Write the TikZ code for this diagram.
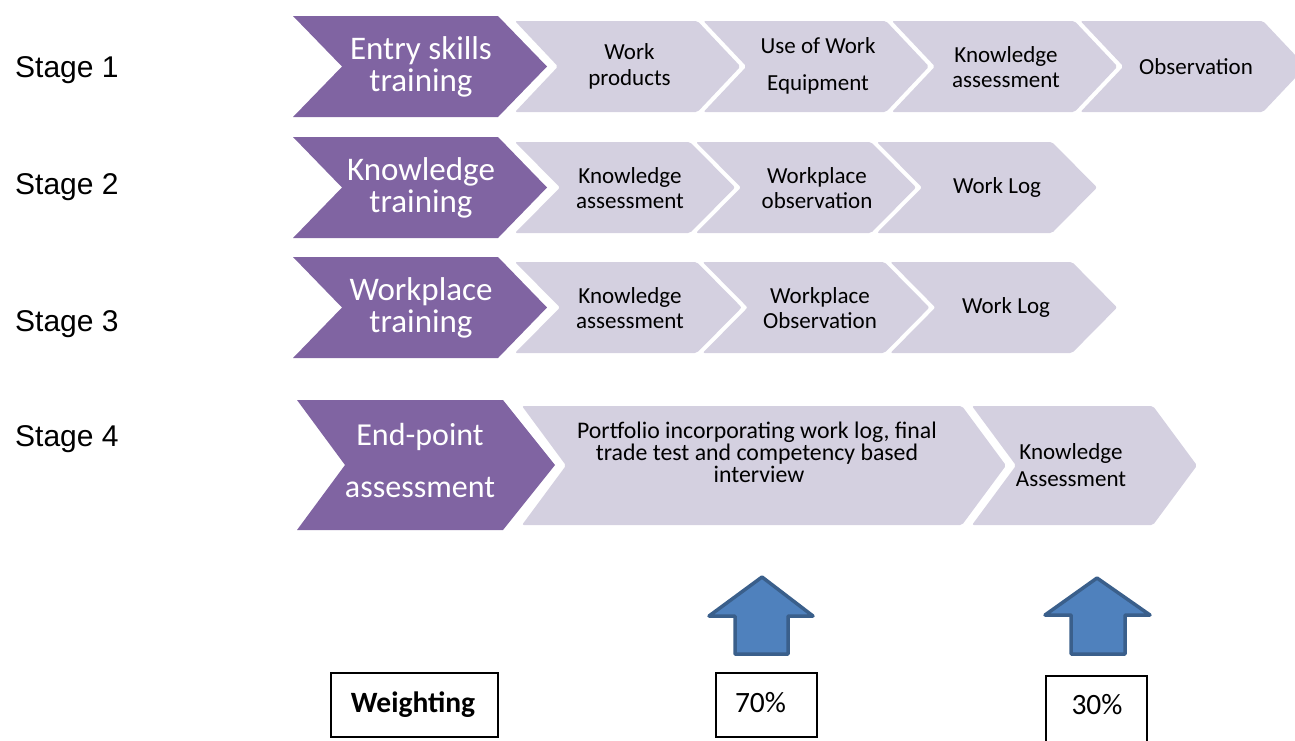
\documentclass[tikz,border=0pt]{standalone}
\usepackage{fontspec}
\setmainfont{Carlito}
\newfontfamily\arialf{Liberation Sans}
\definecolor{purp}{HTML}{8064A2}
\definecolor{lite}{RGB}{212,208,224}
\definecolor{arrfill}{HTML}{4F81BD}
\definecolor{arrline}{HTML}{3A5F8B}
% #1 x0, #2 top, #3 bottom, #4 body width, #5 tip depth, #6 notch depth, #7 style
\newcommand\chevshape[7]{%
  \path[#7] (#1,#2) -- ({#1+#4},#2) -- ({#1+#4+#5},{(#2+#3)/2}) -- ({#1+#4},#3)
    -- (#1,#3) -- ({#1+#6},{(#2+#3)/2}) -- cycle;}
\tikzset{
  purplechev/.style={fill=purp},
  litechev/.style={fill=lite, rounded corners=2pt},
  ptext/.style={text=white, font=\fontsize{33}{32}\selectfont, align=center, inner sep=0pt},
  ltext/.style={font=\fontsize{23}{25}\selectfont, align=center, inner sep=0pt},
  stagetext/.style={font=\arialf\fontsize{30}{36}\selectfont, anchor=base west, inner sep=0pt},
  uparrow/.style={draw=arrline, fill=arrfill, line width=3.5pt, line join=round},
  wbox/.style={draw=black, line width=1.5pt, inner sep=0pt},
  pct/.style={font=\fontsize{29.5}{34}\selectfont, inner sep=0pt, anchor=base},
}
\begin{document}
\begin{tikzpicture}[x=1pt,y=-1pt]
\useasboundingbox (0,0) rectangle (1295,740);

% Stage labels
\node[stagetext] (s1) at (15,77) {Stage 1};
\node[stagetext] (s2) at (15,194) {Stage 2};
\node[stagetext] (s3) at (15,331) {Stage 3};
\node[stagetext] (s4) at (15,446) {Stage 4};

% ---------- Row 1
\chevshape{515}{21}{112}{182.5}{43}{43}{litechev}
\chevshape{703.5}{21}{112}{182.5}{43}{43}{litechev}
\chevshape{892}{21}{112}{182.5}{43}{43}{litechev}
\chevshape{1080.5}{21}{112}{182.5}{43}{43}{litechev}
\chevshape{293}{16}{117}{205}{49}{49}{purplechev}
\node[ptext] (p1) at (421,66.5) {Entry skills\\training};
\node[ltext, font=\fontsize{23}{26}\selectfont] (r1a) at (629.5,66) {Work\\products};
\node[ltext, font=\fontsize{23}{37}\selectfont] (r1b) at (818,66) {Use of Work\\Equipment};
\node[ltext] (r1c) at (1006,67) {Knowledge\\assessment};
\node[ltext] (r1d) at (1196,67) {Observation};

% ---------- Row 2
\chevshape{515}{142}{233}{175}{45}{45}{litechev}
\chevshape{696}{142}{233}{175}{45}{45}{litechev}
\chevshape{877}{142}{233}{175}{45}{45}{litechev}
\chevshape{293}{137}{238}{205}{49}{49}{purplechev}
\node[ptext] (p2) at (421,187.5) {Knowledge\\training};
\node[ltext] (r2a) at (630,188) {Knowledge\\assessment};
\node[ltext] (r2b) at (817,188) {Workplace\\observation};
\node[ltext] (r2c) at (997,187) {Work Log};

% ---------- Row 3
\chevshape{515}{262}{353}{181.7}{45}{45}{litechev}
\chevshape{702.7}{262}{353}{181.7}{45}{45}{litechev}
\chevshape{890.4}{262}{353}{181.7}{45}{45}{litechev}
\chevshape{293}{257}{358}{205}{49}{49}{purplechev}
\node[ptext] (p3) at (421,307.5) {Workplace\\training};
\node[ltext] (r3a) at (630,308) {Knowledge\\assessment};
\node[ltext] (r3b) at (820,308) {Workplace\\Observation};
\node[ltext] (r3c) at (1006,307) {Work Log};

% ---------- Row 4
\chevshape{522}{406}{525}{440}{44}{44}{litechev}
\chevshape{972}{406}{525}{181}{44}{44}{litechev}
\chevshape{297}{400}{530}{206}{52}{48}{purplechev}
\node[ptext, font=\fontsize{32}{52}\selectfont] (p4) at (420,460) {End-point\\assessment};
\node[ltext, font=\fontsize{23.8}{22}\selectfont, anchor=base] (r4a1) at (757,438) {Portfolio incorporating work log, final};
\node[ltext, font=\fontsize{23.8}{22}\selectfont, anchor=base] (r4a2) at (757,460) {trade test and competency based};
\node[ltext, font=\fontsize{23.8}{22}\selectfont, anchor=base] (r4a3) at (759,482) {interview};
\node[ltext, font=\fontsize{23}{27}\selectfont] (r4b) at (1071,465) {Knowledge\\Assessment};

% ---------- Weighting arrows and boxes
\path[uparrow] (762,577) -- (813,616) -- (788,616) -- (788,654) -- (735,654)
  -- (735,616) -- (709,616) -- cycle;
\path[uparrow] (1097,578) -- (1150,615) -- (1125,615) -- (1125,654) -- (1071,654)
  -- (1071,615) -- (1045,615) -- cycle;

\node[wbox, minimum width=167pt, minimum height=64pt] (wbox) at (414.5,705) {};
\node[pct, font=\bfseries\fontsize{29.5}{34}\selectfont] (wtext) at (413,712) {Weighting};
\node[wbox, minimum width=101pt, minimum height=64pt] (box70) at (766.5,705) {};
\node[pct] (t70) at (760.5,712) {70\%};
\node[wbox, minimum width=101pt, minimum height=80pt] (box30) at (1096.5,716) {};
\node[pct] (t30) at (1097,714) {30\%};
\end{tikzpicture}
\end{document}
